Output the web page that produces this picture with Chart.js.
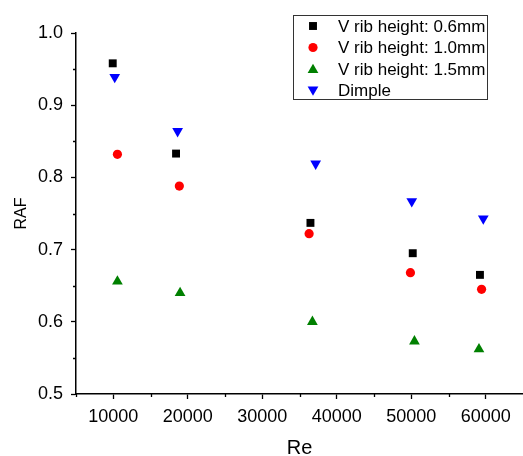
<!DOCTYPE html>
<html>
<head>
<meta charset="utf-8">
<script src="https://cdn.jsdelivr.net/npm/chart.js@4.4.1/dist/chart.umd.min.js"></script>
<style>
  html, body { margin: 0; padding: 0; background: #fff; }
  #wrap { width: 523px; height: 456px; position: relative; }
</style>
</head>
<body>
<div id="wrap"><canvas id="c" width="523" height="456"></canvas></div>
<script>
// ---- data ----
const seriesLabels = ['V rib height: 0.6mm', 'V rib height: 1.0mm', 'V rib height: 1.5mm', 'Dimple'];

const re06  = [9930, 18430, 36470, 50200, 59220];
const raf06 = [0.958, 0.833, 0.737, 0.695, 0.665];

const re10  = [10560, 18870, 36290, 49890, 59440];
const raf10 = [0.832, 0.788, 0.722, 0.668, 0.645];

const re15  = [10560, 18970, 36730, 50430, 59090];
const raf15 = [0.656, 0.640, 0.600, 0.573, 0.562];

const reDimple  = [10200, 18640, 37170, 50070, 59670];
const rafDimple = [0.939, 0.864, 0.819, 0.767, 0.743];

const xTicks = [10000, 20000, 30000, 40000, 50000, 60000];
const xMinorTicks = [5000, 15000, 25000, 35000, 45000, 55000, 65000];
const yTicks = [0.5, 0.6, 0.7, 0.8, 0.9, 1.0];
const yMinorTicks = [0.55, 0.65, 0.75, 0.85, 0.95];

const FONT = '"Liberation Sans", Arial, sans-serif';

function pts(xs, ys) { return xs.map((x, i) => ({ x: x, y: ys[i] })); }

const styles = [
  { color: '#000000', pointStyle: 'rect', radius: 5.6, rotation: 0 },
  { color: '#ff0000', pointStyle: 'circle', radius: 4.6, rotation: 0 },
  { color: '#008000', pointStyle: 'triangle', radius: 6.2, rotation: 0 },
  { color: '#0000ff', pointStyle: 'triangle', radius: 6.2, rotation: 180 }
];
const dataPairs = [[re06, raf06], [re10, raf10], [re15, raf15], [reDimple, rafDimple]];

const datasets = dataPairs.map((p, i) => ({
  label: seriesLabels[i],
  data: pts(p[0], p[1]),
  showLine: false,
  pointStyle: styles[i].pointStyle,
  pointRotation: styles[i].rotation,
  pointRadius: styles[i].radius,
  pointHoverRadius: styles[i].radius,
  pointBorderWidth: 0,
  backgroundColor: styles[i].color,
  borderColor: styles[i].color
}));

// minor ticks + custom boxed legend
const extras = {
  id: 'extras',
  afterDraw(chart) {
    const ctx = chart.ctx;
    const xs = chart.scales.x, ys = chart.scales.y;
    ctx.save();
    ctx.strokeStyle = '#000';
    ctx.lineWidth = 1.3;
    ctx.beginPath();
    xMinorTicks.forEach(v => {
      const px = Math.round(xs.getPixelForValue(v)) + 0.5;
      if (px > chart.width) return;
      ctx.moveTo(px, xs.top);
      ctx.lineTo(px, xs.top + 3);
    });
    yMinorTicks.forEach(v => {
      const py = Math.round(ys.getPixelForValue(v)) + 0.5;
      ctx.moveTo(ys.right, py);
      ctx.lineTo(ys.right - 3, py);
    });
    ctx.stroke();

    // legend box
    const bx = 293.5, by = 15.5, bw = 194, bh = 84;
    ctx.strokeStyle = '#333';
    ctx.lineWidth = 1;
    ctx.strokeRect(bx, by, bw, bh);
    const rowY = [26, 47.5, 69, 90.5];
    ctx.font = '17px ' + FONT;
    ctx.textBaseline = 'middle';
    ctx.textAlign = 'left';
    chart.data.datasets.forEach((ds, i) => {
      const st = styles[i];
      ctx.fillStyle = st.color;
      ctx.strokeStyle = st.color;
      Chart.helpers.drawPoint(ctx, {
        pointStyle: st.pointStyle,
        rotation: st.rotation,
        radius: st.radius,
        borderWidth: 0
      }, 313, rowY[i] + (st.pointStyle === 'triangle' ? (st.rotation ? -1 : 1) : 0));
      ctx.fillStyle = '#000';
      ctx.fillText(ds.label, 338, rowY[i] + 1);
    });
    ctx.restore();
  }
};

new Chart(document.getElementById('c'), {
  type: 'scatter',
  data: { datasets: datasets },
  options: {
    responsive: false,
    animation: false,
    devicePixelRatio: 1,
    layout: { autoPadding: false, padding: { top: 33, right: 0, left: 0, bottom: 0 } },
    plugins: {
      legend: { display: false },
      tooltip: { enabled: false }
    },
    scales: {
      x: {
        type: 'linear',
        min: 5000,
        max: 65000,
        afterBuildTicks: s => { s.ticks = xTicks.map(v => ({ value: v })); },
        afterFit: s => { s.height = 62; s.paddingLeft = 0; s.paddingRight = 0; },
        grid: { drawOnChartArea: false, drawTicks: true, tickLength: 5, tickColor: '#000', tickWidth: 1.3 },
        border: { display: true, color: '#000', width: 1.5 },
        ticks: { color: '#000', font: { family: FONT, size: 18 }, padding: 7, maxRotation: 0, autoSkip: false,
                 callback: v => String(v) },
        title: { display: true, text: 'Re', color: '#000', font: { family: FONT, size: 20, lineHeight: 0.8 }, padding: { top: 0, bottom: 0 } }
      },
      y: {
        type: 'linear',
        min: 0.5,
        max: 1.0,
        afterBuildTicks: s => { s.ticks = yTicks.map(v => ({ value: v })); },
        afterFit: s => { s.width = 76; s.paddingTop = 0; s.paddingBottom = 0; },
        grid: { drawOnChartArea: false, drawTicks: true, tickLength: 5, tickColor: '#000', tickWidth: 1.3 },
        border: { display: true, color: '#000', width: 1.5 },
        ticks: { color: '#000', font: { family: FONT, size: 18 }, padding: 8,
                 callback: v => Number(v).toFixed(1) },
        title: { display: true, text: 'RAF', color: '#000', font: { family: FONT, size: 16 }, padding: { top: 12, bottom: 10 } }
      }
    }
  },
  plugins: [extras]
});
</script>
</body>
</html>
